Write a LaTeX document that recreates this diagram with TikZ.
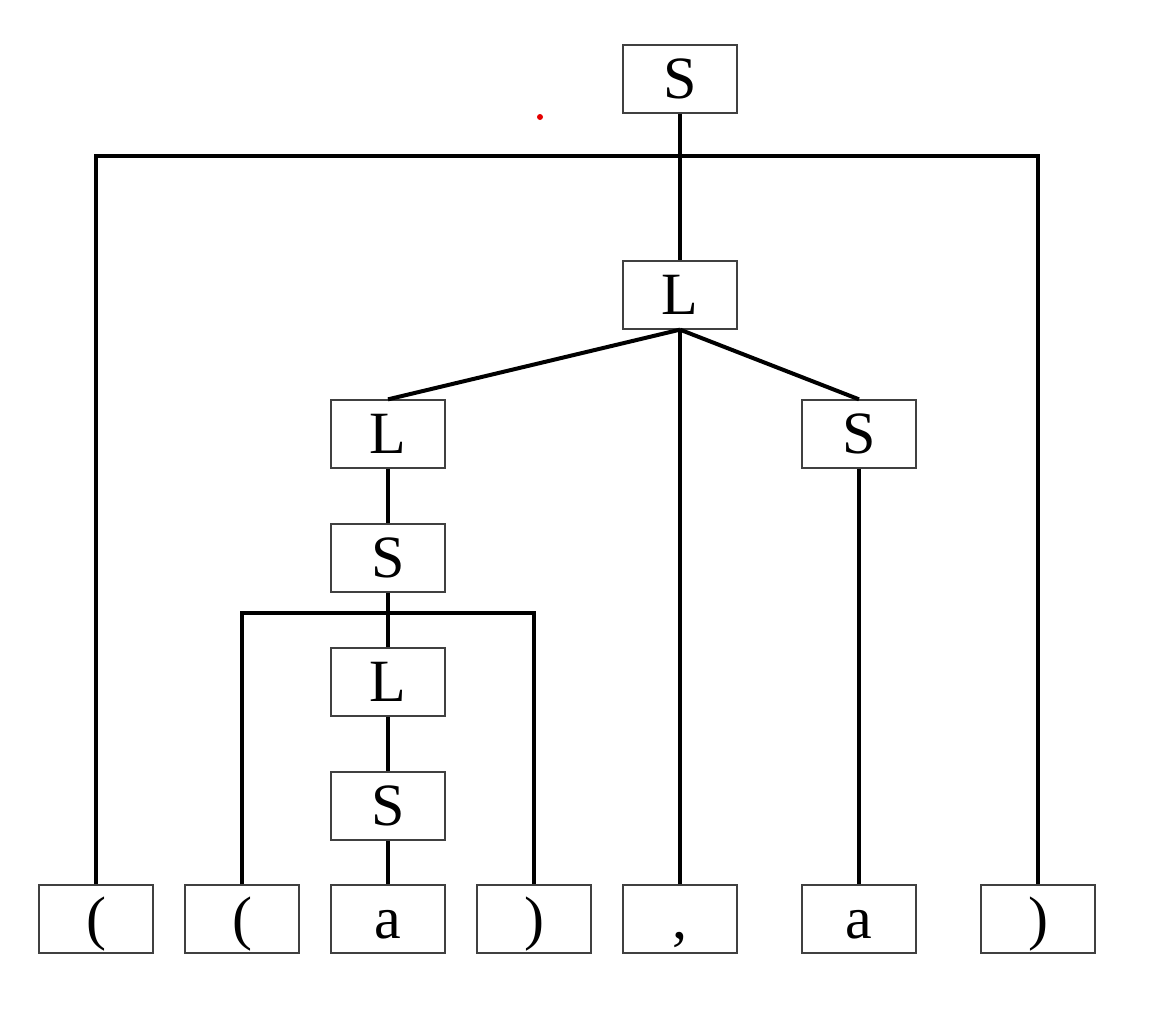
\documentclass[tikz,border=0pt]{standalone}
\usepackage{fontspec}
\setmainfont{Liberation Serif}
\usepackage{tikz}
\usetikzlibrary{positioning}

\tikzset{
    sym/.style={draw=black!75, line width=0.65pt, minimum width=57pt, minimum height=34pt,
        inner sep=0pt, text height=19pt, text depth=0pt, font=\fontsize{30}{36}\selectfont},
    edge/.style={line width=2pt}
}

\begin{document}
\begin{tikzpicture}[x=0.5pt, y=-0.5pt]
    % Fix the size of the page
    \useasboundingbox (0,0) rectangle (1164,1013);

    % Draw the inner nodes of the tree
    \node[sym] (s0) at (680,79) {S};
    \node[sym] (l1) at (680,295) {L};
    \node[sym] (l2) at (388,434) {L};
    \node[sym] (s2) at (859,434) {S};
    \node[sym] (s3) at (388,558) {S};
    \node[sym] (l3) at (388,682) {L};
    \node[sym] (s4) at (388,806) {S};

    % Draw the leaves
    \node[sym] (lp1) at (96,919) {(};
    \node[sym] (lp2) at (242,919) {(};
    \node[sym] (a1) at (388,919) {a};
    \node[sym] (rp2) at (534,919) {)};
    \node[sym] (comma) at (680,919) {,};
    \node[sym] (a2) at (859,919) {a};
    \node[sym] (rp1) at (1038,919) {)};

    % Points where the brackets hang from
    \coordinate (b0) at (680,156);
    \coordinate (b1) at (388,613);

    % Draw the edges
    \draw[edge] (s0.south) -- (l1.north);
    \draw[edge] (lp1.north) |- (b0) -| (rp1.north);
    \draw[edge] (l1.south) -- (l2.north);
    \draw[edge] (l1.south) -- (s2.north);
    \draw[edge] (l1.south) -- (comma.north);
    \draw[edge] (l2.south) -- (s3.north);
    \draw[edge] (s3.south) -- (l3.north);
    \draw[edge] (lp2.north) |- (b1) -| (rp2.north);
    \draw[edge] (l3.south) -- (s4.north);
    \draw[edge] (s4.south) -- (a1.north);
    \draw[edge] (s2.south) -- (a2.north);

    % Small red dot
    \fill[red!90!black] (540,117) circle (1.5pt);
\end{tikzpicture}
\end{document}
